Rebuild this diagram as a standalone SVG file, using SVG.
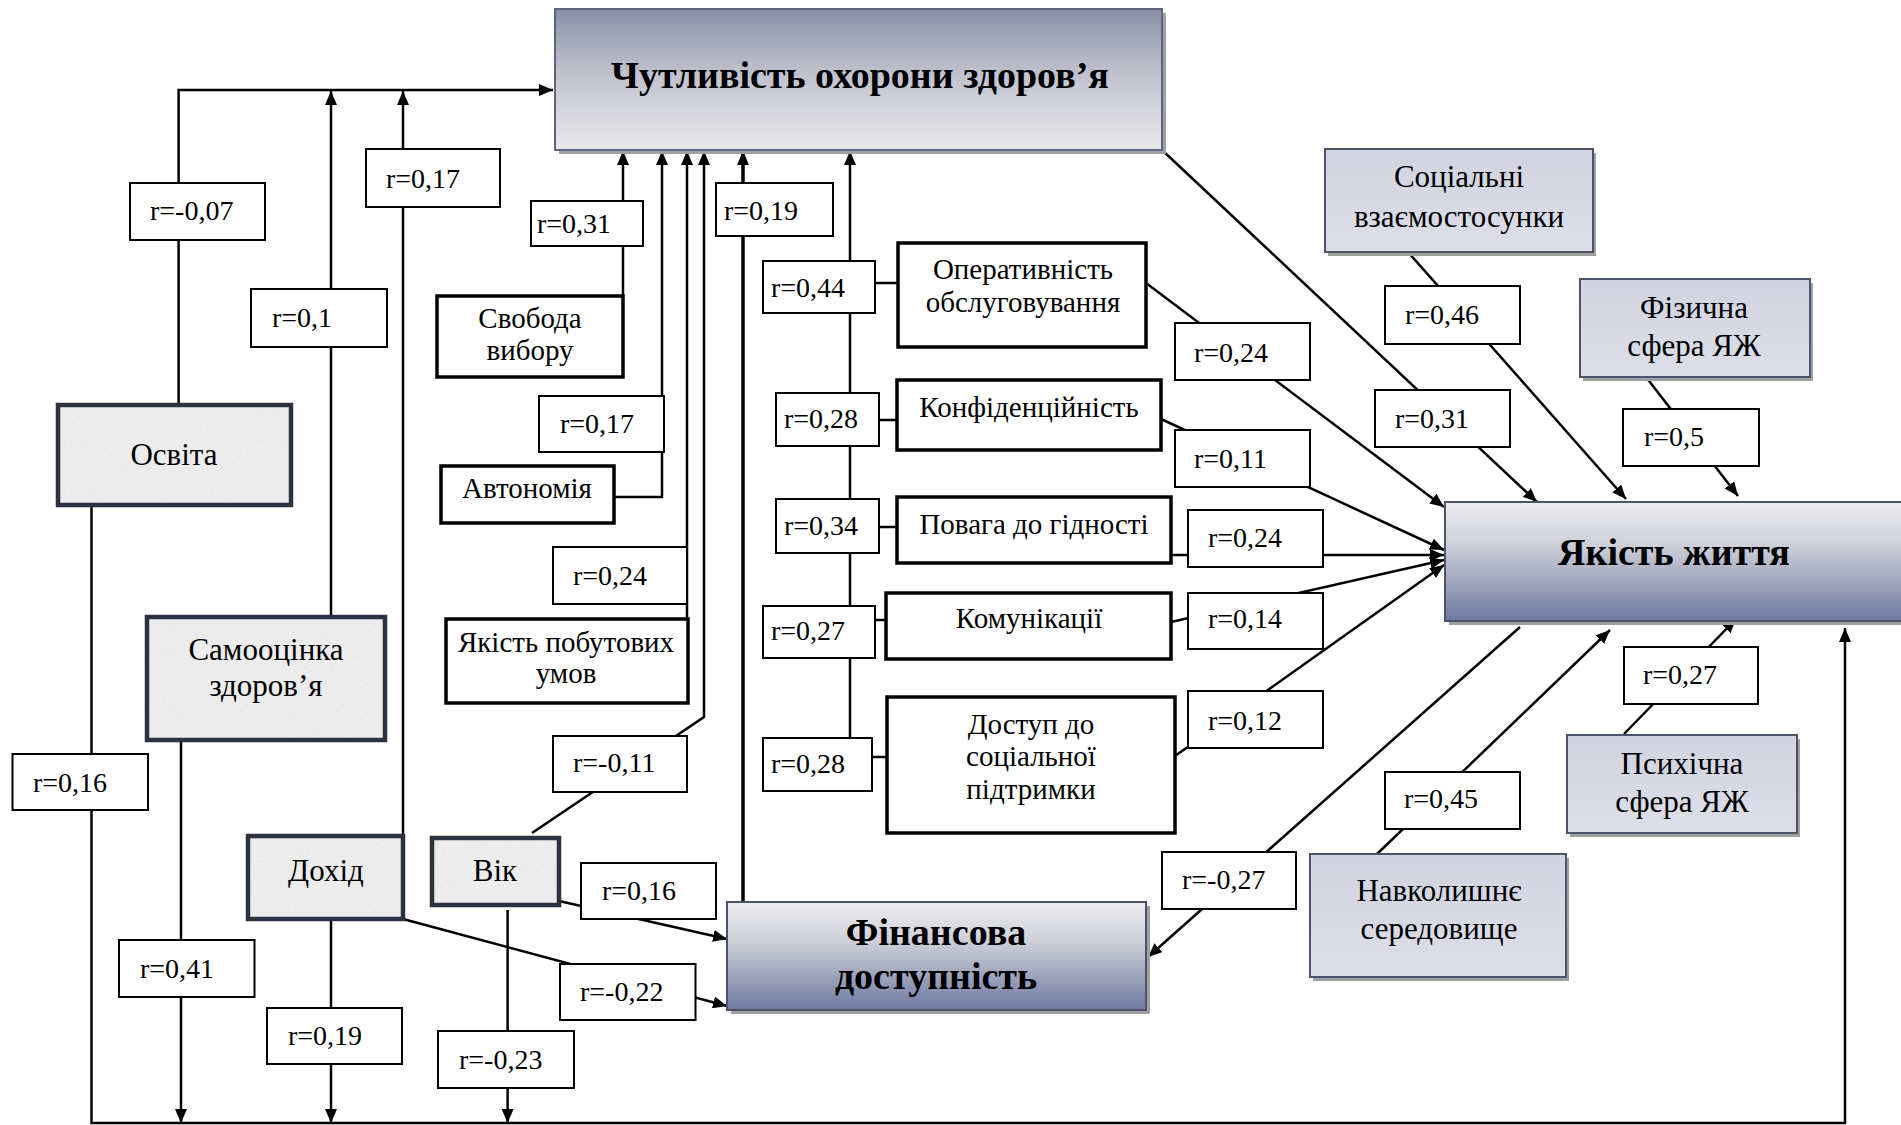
<svg xmlns="http://www.w3.org/2000/svg" width="1901" height="1125" viewBox="0 0 1901 1125">
<style>
text{font-family:"Liberation Serif","Times New Roman",serif;fill:#000}
.lbl{font-size:28px}
.nt{font-size:29px;text-anchor:middle}
.gt{font-size:31px;text-anchor:middle}
.bt{font-size:38px;font-weight:bold;text-anchor:middle}
.lb{fill:#fff;stroke:#000;stroke-width:2}
.nb{fill:#fff;stroke:#000;stroke-width:3.5}
.gf{filter:url(#gran)}
.gb{fill:none;stroke:#2c3240;stroke-width:4.5}
.lv{fill:url(#lav);stroke:#4d5368;stroke-width:2}
.sh{fill:#a0a0a0}
.c{fill:none;stroke:#000;stroke-width:2.5}
.a{marker-end:url(#ah)}
</style>
<defs>
<marker id="ah" viewBox="0 0 14 12" refX="14" refY="6" markerWidth="14" markerHeight="12" markerUnits="userSpaceOnUse" orient="auto">
<path d="M0,0 L14,6 L0,12 z" fill="#000"/>
</marker>
<linearGradient id="top" x1="0" y1="0" x2="0" y2="1">
<stop offset="0" stop-color="#8a8fa7"/>
<stop offset="0.45" stop-color="#bfc1cd"/>
<stop offset="1" stop-color="#e9e9eb"/>
</linearGradient>
<linearGradient id="dark" x1="0" y1="0" x2="0" y2="1">
<stop offset="0" stop-color="#ededef"/>
<stop offset="0.35" stop-color="#cfd1da"/>
<stop offset="1" stop-color="#6f79a0"/>
</linearGradient>
<linearGradient id="lav" x1="0" y1="0" x2="0" y2="1">
<stop offset="0" stop-color="#d1d4e1"/>
<stop offset="1" stop-color="#dcdee7"/>
</linearGradient>
<filter id="gran" x="0" y="0" width="1" height="1">
<feTurbulence type="fractalNoise" baseFrequency="0.3" numOctaves="3" seed="7" result="t"/>
<feColorMatrix in="t" type="matrix" values="0 0 0 0 0.78  0 0 0 0 0.78  0 0 0 0 0.79  1.4 0 0 0 -0.62" result="spots"/>
<feFlood flood-color="#ededed" result="bg"/>
<feComposite in="spots" in2="bg" operator="over" result="tex"/>
<feComposite in="tex" in2="SourceAlpha" operator="in"/>
</filter>
</defs>
<rect width="1901" height="1125" fill="#fff"/>

<g id="connectors">
<path class="c a" d="M178.6,403 V90 H553"/>
<path class="c a" d="M331,617 V91"/>
<path class="c a" d="M403,835 V91"/>
<path class="c a" d="M623,296 V151"/>
<path class="c a" d="M614,497 H662 V151"/>
<path class="c a" d="M687,619 V151"/>
<path class="c a" d="M532,833 L704,717 V151"/>
<path class="c a" d="M743,901 V151" style="stroke-width:3.5"/>
<path class="c a" d="M850,738 V151"/>
<path class="c" d="M875,283 H898 M879,420 H897 M879,527 H897 M875,620 H886 M872,757 H887"/>
<path class="c a" d="M1162,150 L1537,502"/>
<path class="c a" d="M1146,283 L1444,507"/>
<path class="c a" d="M1161,419 L1444,550"/>
<path class="c a" d="M1171,555 L1444,555"/>
<path class="c a" d="M1171,622 L1444,560"/>
<path class="c a" d="M1175,756 L1444,565"/>
<path class="c a" d="M1520,627 L1148,957"/>
<path class="c a" d="M1408,252 L1626,499"/>
<path class="c a" d="M1646,377 L1738,496"/>
<path class="c a" d="M1377,854 L1610,630"/>
<path class="c a" d="M1624,734 L1736,619"/>
<path class="c a" d="M559,901 L727,939"/>
<path class="c a" d="M403,919 L727,1006"/>
<path class="c a" d="M91.5,505 V1123 H1845 V628"/>
<path class="c a" d="M181,740 V1123"/>
<path class="c a" d="M331,919 V1123"/>
<path class="c a" d="M507.6,910 V1123"/>
</g>

<g id="n-chut"><rect class="sh" x="559" y="13" width="607" height="141"/><rect x="555" y="9" width="607" height="141" fill="url(#top)" stroke="#5d6480" stroke-width="2"/><text class="bt" x="860" y="88">Чутливість охорони здоров’я</text></g>
<g id="n-yakist"><rect class="sh" x="1449" y="506" width="470" height="119"/><rect x="1445" y="502" width="470" height="119" fill="url(#dark)" stroke="#4d5368" stroke-width="2"/><text class="bt" x="1674" y="565">Якість життя</text></g>
<g id="n-fin"><rect class="sh" x="731" y="906" width="419" height="108"/><rect x="727" y="902" width="419" height="108" fill="url(#dark)" stroke="#4d5368" stroke-width="2"/><text class="bt" x="936" y="945">Фінансова</text><text class="bt" x="936" y="989">доступність</text></g>
<g id="n-social"><rect class="sh" x="1328" y="153" width="268" height="103"/><rect class="lv" x="1325" y="149" width="268" height="103"/><text class="gt" x="1459" y="187">Соціальні</text><text class="gt" x="1459" y="227">взаємостосунки</text></g>
<g id="n-fiz"><rect class="sh" x="1583" y="283" width="230" height="98"/><rect class="lv" x="1580" y="279" width="230" height="98"/><text class="gt" x="1694" y="318">Фізична</text><text class="gt" x="1694" y="356">сфера ЯЖ</text></g>
<g id="n-psych"><rect class="sh" x="1570" y="739" width="230" height="98"/><rect class="lv" x="1567" y="735" width="230" height="98"/><text class="gt" x="1682" y="774">Психічна</text><text class="gt" x="1682" y="812">сфера ЯЖ</text></g>
<g id="n-navk"><rect class="sh" x="1313" y="858" width="256" height="123"/><rect class="lv" x="1310" y="854" width="256" height="123"/><text class="gt" x="1439" y="901">Навколишнє</text><text class="gt" x="1439" y="939">середовище</text></g>
<g id="n-osvita"><rect class="gf" x="58" y="405" width="233" height="100" fill="#000"/><rect class="gb" x="58" y="405" width="233" height="100"/><text class="gt" x="174" y="465">Освіта</text></g>
<g id="n-samo"><rect class="gf" x="147" y="617" width="238" height="123" fill="#000"/><rect class="gb" x="147" y="617" width="238" height="123"/><text class="gt" x="266" y="660">Самооцінка</text><text class="gt" x="266" y="696">здоров’я</text></g>
<g id="n-dohid"><rect class="gf" x="248" y="836" width="155" height="83" fill="#000"/><rect class="gb" x="248" y="836" width="155" height="83"/><text class="gt" x="326" y="881">Дохід</text></g>
<g id="n-vik"><rect class="gf" x="432" y="838" width="127" height="67" fill="#000"/><rect class="gb" x="432" y="838" width="127" height="67"/><text class="gt" x="495" y="881">Вік</text></g>
<g id="n-svoboda"><rect class="nb" x="437" y="296" width="186" height="81"/><text class="nt" x="530" y="328">Свобода</text><text class="nt" x="530" y="360">вибору</text></g>
<g id="n-avto"><rect class="nb" x="441" y="466" width="173" height="57"/><text class="nt" x="527" y="498">Автономія</text></g>
<g id="n-pobut"><rect class="nb" x="446" y="619" width="242" height="84"/><text class="nt" x="566" y="652">Якість побутових</text><text class="nt" x="566" y="683">умов</text></g>
<g id="n-operat"><rect class="nb" x="898" y="243" width="248" height="104"/><text class="nt" x="1023" y="279">Оперативність</text><text class="nt" x="1023" y="312">обслуговування</text></g>
<g id="n-konf"><rect class="nb" x="897" y="380" width="264" height="70"/><text class="nt" x="1029" y="417">Конфіденційність</text></g>
<g id="n-povaga"><rect class="nb" x="897" y="497" width="274" height="66"/><text class="nt" x="1034" y="534">Повага до гідності</text></g>
<g id="n-komun"><rect class="nb" x="886" y="593" width="285" height="66"/><text class="nt" x="1029" y="628">Комунікації</text></g>
<g id="n-dostup"><rect class="nb" x="887" y="697" width="288" height="136"/><text class="nt" x="1031" y="734">Доступ до</text><text class="nt" x="1031" y="766">соціальної</text><text class="nt" x="1031" y="799">підтримки</text></g>

<g id="labels">
<rect class="lb" x="130" y="183" width="135" height="57"/><text class="lbl" x="150" y="220">r=-0,07</text>
<rect class="lb" x="251" y="289" width="136" height="58"/><text class="lbl" x="272" y="327">r=0,1</text>
<rect class="lb" x="366" y="149" width="134" height="58"/><text class="lbl" x="386" y="188">r=0,17</text>
<rect class="lb" x="531" y="201" width="112" height="45"/><text class="lbl" x="537" y="233">r=0,31</text>
<rect class="lb" x="716" y="183" width="117" height="53"/><text class="lbl" x="724" y="220">r=0,19</text>
<rect class="lb" x="763" y="261" width="112" height="52"/><text class="lbl" x="771" y="297">r=0,44</text>
<rect class="lb" x="776" y="393" width="103" height="53"/><text class="lbl" x="784" y="428">r=0,28</text>
<rect class="lb" x="776" y="499" width="103" height="54"/><text class="lbl" x="784" y="535">r=0,34</text>
<rect class="lb" x="763" y="606" width="112" height="52"/><text class="lbl" x="771" y="640">r=0,27</text>
<rect class="lb" x="763" y="738" width="109" height="53"/><text class="lbl" x="771" y="773">r=0,28</text>
<rect class="lb" x="539" y="396" width="125" height="56"/><text class="lbl" x="560" y="433">r=0,17</text>
<rect class="lb" x="553" y="547" width="134" height="57"/><text class="lbl" x="573" y="585">r=0,24</text>
<rect class="lb" x="553" y="736" width="134" height="56"/><text class="lbl" x="573" y="772">r=-0,11</text>
<rect class="lb" x="581" y="863" width="135" height="56"/><text class="lbl" x="602" y="900">r=0,16</text>
<rect class="lb" x="1175" y="323" width="135" height="57"/><text class="lbl" x="1194" y="362">r=0,24</text>
<rect class="lb" x="1175" y="430" width="135" height="57"/><text class="lbl" x="1194" y="468">r=0,11</text>
<rect class="lb" x="1188" y="510" width="135" height="57"/><text class="lbl" x="1208" y="547">r=0,24</text>
<rect class="lb" x="1188" y="593" width="135" height="56"/><text class="lbl" x="1208" y="628">r=0,14</text>
<rect class="lb" x="1188" y="691" width="135" height="57"/><text class="lbl" x="1208" y="730">r=0,12</text>
<rect class="lb" x="1162" y="852" width="134" height="57"/><text class="lbl" x="1182" y="889">r=-0,27</text>
<rect class="lb" x="1385" y="286" width="135" height="58"/><text class="lbl" x="1405" y="324">r=0,46</text>
<rect class="lb" x="1375" y="390" width="135" height="57"/><text class="lbl" x="1395" y="428">r=0,31</text>
<rect class="lb" x="1623" y="409" width="136" height="57"/><text class="lbl" x="1644" y="446">r=0,5</text>
<rect class="lb" x="1385" y="772" width="135" height="57"/><text class="lbl" x="1404" y="808">r=0,45</text>
<rect class="lb" x="1624" y="647" width="134" height="57"/><text class="lbl" x="1643" y="684">r=0,27</text>
<rect class="lb" x="12.5" y="754" width="135.5" height="56"/><text class="lbl" x="33" y="792">r=0,16</text>
<rect class="lb" x="119" y="940" width="135.5" height="57"/><text class="lbl" x="140" y="978">r=0,41</text>
<rect class="lb" x="267" y="1008" width="135" height="56"/><text class="lbl" x="288" y="1045">r=0,19</text>
<rect class="lb" x="438" y="1031" width="136" height="57"/><text class="lbl" x="459" y="1069">r=-0,23</text>
<rect class="lb" x="560" y="964" width="135.5" height="56"/><text class="lbl" x="580" y="1001">r=-0,22</text>
</g>
</svg>
